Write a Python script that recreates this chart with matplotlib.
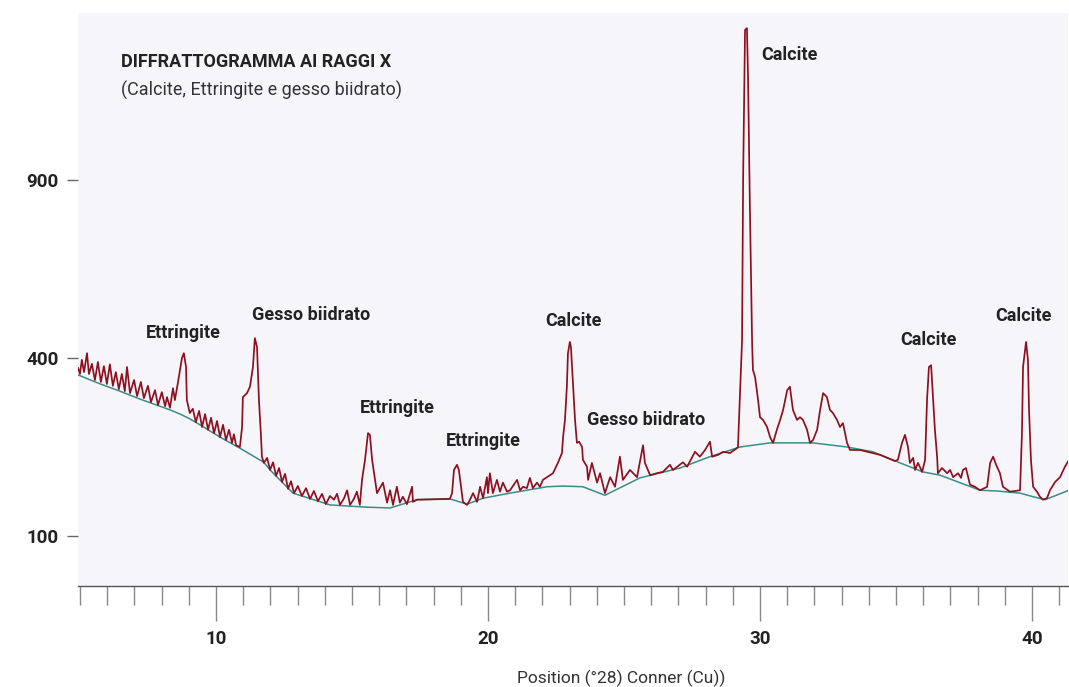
import numpy as np
import matplotlib
matplotlib.use("Agg")
import matplotlib.pyplot as plt

plt.rcParams['font.family'] = ['Roboto', 'DejaVu Sans']

# 2theta (deg) / counts of the measured pattern
two_theta = [
    4.93, 5.00, 5.07, 5.15, 5.26, 5.33, 5.44, 5.55, 5.66, 5.77, 5.88, 5.99, 6.10, 6.21, 6.32,
    6.43, 6.54, 6.65, 6.73, 6.84, 6.99, 7.10, 7.24, 7.35, 7.50, 7.61, 7.76, 7.87, 8.01, 8.13,
    8.20, 8.31, 8.42, 8.49, 8.60, 8.75, 8.82, 8.90, 8.93, 9.04, 9.15, 9.26, 9.38, 9.49, 9.60,
    9.71, 9.82, 9.93, 10.04, 10.15, 10.26, 10.37, 10.48, 10.59, 10.66, 10.74, 10.88, 10.96, 10.99,
    11.14, 11.25, 11.36, 11.43, 11.51, 11.58, 11.65, 11.69, 11.76, 11.88, 11.99, 12.10, 12.21,
    12.32, 12.43, 12.54, 12.65, 12.76, 12.87, 13.01, 13.16, 13.31, 13.46, 13.60, 13.75, 13.90,
    14.04, 14.19,
    14.34, 14.45, 14.56, 14.71, 14.82, 14.93, 15.07, 15.18, 15.29, 15.37, 15.48, 15.59, 15.66,
    15.74, 15.85, 15.92, 16.14, 16.29, 16.40, 16.51, 16.65, 16.76, 16.87, 17.02, 17.21, 17.24,
    17.39, 18.60, 18.68, 18.75, 18.86, 18.93, 19.04, 19.08, 19.23, 19.34, 19.45, 19.60, 19.71,
    19.82, 19.96, 20.00, 20.07, 20.18, 20.33, 20.44, 20.55, 20.70, 20.81, 21.07, 21.18, 21.29,
    21.43, 21.54, 21.65, 21.80, 21.91, 22.02, 22.17, 22.39, 22.57, 22.72, 22.76, 22.83, 22.90,
    22.94, 23.01, 23.05, 23.13, 23.20, 23.27, 23.35, 23.46, 23.49, 23.64, 23.68, 23.82, 24.01,
    24.12, 24.30, 24.49, 24.67, 24.85, 24.96, 25.22, 25.48, 25.70, 25.77, 25.96, 26.21, 26.43,
    26.69, 26.80, 27.17, 27.32, 27.61, 27.79, 27.98, 28.16, 28.24, 28.46, 28.64, 28.90, 29.15,
    29.19, 29.34, 29.38, 29.45, 29.52, 29.56, 29.63, 29.71, 29.74, 29.82, 29.93, 30.00, 30.11,
    30.26, 30.37, 30.48, 30.62, 30.74, 30.85, 31.00, 31.10, 31.21, 31.36, 31.47, 31.58, 31.73,
    31.84, 31.95, 32.10, 32.21, 32.32, 32.46, 32.57, 32.68, 32.83, 32.94, 33.05, 33.20, 33.31,
    33.68, 34.41, 34.96, 35.07, 35.22, 35.33, 35.44, 35.51, 35.63, 35.70, 35.81, 35.96, 36.07,
    36.14, 36.21, 36.29, 36.36, 36.43, 36.51, 36.54, 36.69, 36.88, 36.99, 37.10, 37.28, 37.39,
    37.46, 37.57, 37.72, 37.90, 38.09, 38.35, 38.46, 38.57, 38.68, 38.82, 38.93, 39.19, 39.56,
    39.63, 39.67, 39.78, 39.85, 39.89, 39.96, 40.04, 40.18, 40.29, 40.40, 40.55, 40.66, 40.85,
    41.03, 41.21, 41.36,
]
counts = [
    378, 365, 396, 369, 411, 365, 387, 352, 391, 348, 382, 344, 386, 340, 369,
    333, 365, 329, 380, 325, 352, 319, 348, 315, 340, 307, 331, 301, 327, 299,
    317, 296, 335, 311, 346, 400, 411, 380, 311, 286, 294, 269, 290, 260, 284,
    255, 277, 249, 271, 242, 264, 237, 255, 232, 247, 228, 225, 260, 317,
    325, 338, 380, 446, 425, 311, 249, 209, 199, 207, 188, 200, 179,
    191, 170, 182, 160, 171, 154, 164, 150, 161, 146, 157, 143, 153,
    139, 150,
    145, 153, 138, 147, 158, 138, 146, 156, 138, 173, 204, 249, 246,
    204, 173, 154, 169, 141, 158, 138, 163, 141, 149, 139, 163, 142,
    145, 146, 154, 188, 196, 188, 154, 142, 138, 145, 154, 142, 163,
    147, 177, 154, 183, 154, 173, 156, 169, 156, 158, 173, 158, 163,
    161, 176, 161, 169, 163, 173, 177, 183, 199, 215, 242, 273, 338,
    411, 437, 425, 338, 273, 232, 234, 225, 204, 193, 173, 199, 169,
    183, 154, 177, 163, 209, 173, 188, 177, 228, 199, 180, 183, 185,
    196, 188, 200, 193, 217, 209, 220, 234, 209, 212, 217, 215, 223,
    225, 441, 910, 1477, 1485, 1281, 802, 435, 374, 358, 311, 278, 273,
    260, 242, 232, 255, 273, 292, 331, 338, 292, 273, 278, 273, 255,
    232, 237, 255, 292, 325, 317, 292, 286, 273, 260, 267, 232, 220,
    220, 212, 202, 204, 232, 246, 225, 199, 207, 188, 199, 185, 204,
    311, 380, 384, 317, 255, 209, 183, 191, 183, 188, 177, 183, 176,
    188, 191, 166, 163, 158, 163, 199, 209, 196, 183, 163, 156, 158,
    249, 380, 437, 396, 292, 204, 163, 156, 149, 145, 147, 158, 170,
    177, 193, 204,
]

# fitted background
bg_theta = [4.93, 5.74, 6.47, 7.21, 7.94, 8.31, 8.68, 9.04, 9.41, 10.15, 10.88, 11.76, 11.99,
            12.83, 14.19, 15.55, 16.40, 17.13, 17.39, 18.60, 19.23, 19.82, 20.81, 22.17, 22.76,
            23.49, 24.30, 25.59, 27.06, 28.16, 29.26, 30.37, 31.95, 33.20, 34.15, 35.15, 35.99,
            36.62, 38.09, 38.71, 39.56, 40.04, 40.48, 41.36]
bg_counts = [363, 344, 329, 313, 299, 292, 284, 275, 264, 242, 223, 200, 188,
             154, 138, 135, 134, 142, 145, 146, 139, 147, 154, 163, 164,
             163, 151, 176, 191, 209, 225, 232, 232, 225, 217, 199, 185,
             180, 158, 157, 154, 149, 145, 158]

peak_names = ["Ettringite", "Gesso biidrato", "Ettringite", "Ettringite", "Calcite",
              "Gesso biidrato", "Calcite", "Calcite", "Calcite"]
label_x = [8.79, 13.49, 16.65, 19.82, 23.13, 25.81, 31.10, 36.21, 39.67]
label_y = [458, 502, 295, 235, 487, 273, 1370, 441, 500]

y_ticks = [100, 400, 900]
x_major = [10, 20, 30, 40]

fig = plt.figure(figsize=(10.69, 6.87), dpi=100)
ax = fig.add_axes([0.073, 0.147, 0.926, 0.834])
ax.set_facecolor('#f6f6fa')

ax.plot(bg_theta, bg_counts, color='#3c8c86', lw=1.1, zorder=2)
ax.plot(two_theta, counts, color='#8f0f1f', lw=1.25, zorder=3)

ax.set_yscale('function', functions=(lambda v: np.sqrt(np.clip(v, 0, None)), np.square))
ax.set_ylim(51.7, 1551)
ax.set_xlim(4.93, 41.32)

ax.set_yticks(y_ticks)
ax.set_yticklabels([str(t) for t in y_ticks])
ax.set_xticks(x_major)
ax.set_xticks(np.arange(5, 42), minor=True)
ax.yaxis.set_minor_locator(matplotlib.ticker.NullLocator())

for s in ['top', 'right', 'left']:
    ax.spines[s].set_visible(False)
ax.spines['bottom'].set_color('#555555')
ax.spines['bottom'].set_linewidth(1.0)

ax.tick_params(axis='x', which='major', direction='out', length=25, width=1,
               color='#888888', pad=7, labelsize=13.5, labelcolor='#222222')
ax.tick_params(axis='x', which='minor', direction='out', length=14, width=1,
               color='#888888')
ax.tick_params(axis='y', direction='out', length=8, width=1, color='#666666',
               pad=6, labelsize=13.5, labelcolor='#222222')
for lab in ax.get_xticklabels() + ax.get_yticklabels():
    lab.set_fontweight('bold')

fig.text(0.484, 0.013, 'Position (°28) Conner (Cu))', ha='left', va='center',
         fontsize=12.5, color='#333333')

for name, lx, ly in zip(peak_names, label_x, label_y):
    ax.text(lx, ly, name, ha='center', va='center', fontsize=13, fontweight='bold',
            color='#222222', zorder=4)

ax.text(0.0434, 0.9145, 'DIFFRATTOGRAMMA AI RAGGI X', transform=ax.transAxes,
        ha='left', va='center', fontsize=13, fontweight='bold', color='#222222')
ax.text(0.0434, 0.8656, '(Calcite, Ettringite e gesso biidrato)', transform=ax.transAxes,
        ha='left', va='center', fontsize=13, color='#333333')

fig.savefig('out.png', dpi=100, facecolor='white')
